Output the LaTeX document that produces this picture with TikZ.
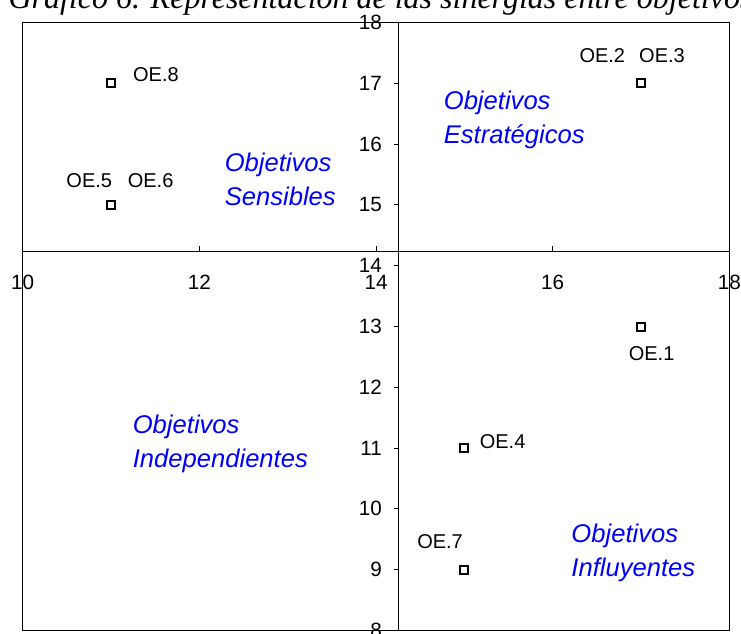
\documentclass[tikz,border=0pt]{standalone}
\usepackage{fontspec}
\setmainfont{Liberation Sans}
\newfontfamily\serifit{Liberation Serif}
\usepackage{tikz}
\usetikzlibrary{calc}

\tikzset{
  pto/.style={draw,rectangle,minimum size=6pt,inner sep=0pt,line width=1.5pt},
  etq/.style={anchor=base west,inner sep=0pt,font=\fontsize{15}{18}\selectfont},
  num/.style={inner sep=0pt,font=\fontsize{15.5}{18}\selectfont},
  zona/.style={anchor=base west,inner sep=0pt,align=left,text=blue,font=\fontsize{19.2}{25.3}\selectfont\itshape}
}

\begin{document}
                                 \begin{tikzpicture}[x=66.25pt,y=45.585pt,line width=0.75pt]
                                     \useasboundingbox (9.743,7.942) rectangle (18.132,18.373);
                                     \node[anchor=base west,inner sep=0pt,font=\fontsize{24}{28}\serifit\itshape] (titulo) at (9.834,18.225) {Gráfico 6. Representación de las sinergias entre objetivos};
                                     \draw (10,8) rectangle (18,18);
                                     \draw (10,14.227) -- (18,14.227);
                                     \draw (14.26,8) -- (14.26,18);
                                     \draw[shift={(10,14.227)},color=black] (0pt,4.5pt) -- (0pt,0pt) node[num,anchor=base,yshift=-28.5pt] (x10) {10};
                                     \draw[shift={(12,14.227)},color=black] (0pt,4.5pt) -- (0pt,0pt) node[num,anchor=base,yshift=-28.5pt] (x12) {12};
                                     \draw[shift={(14,14.227)},color=black] (0pt,4.5pt) -- (0pt,0pt) node[num,anchor=base,yshift=-28.5pt] (x14) {14};
                                     \draw[shift={(16,14.227)},color=black] (0pt,4.5pt) -- (0pt,0pt) node[num,anchor=base,yshift=-28.5pt] (x16) {16};
                                     \draw[shift={(18,14.227)},color=black] (0pt,4.5pt) -- (0pt,0pt) node[num,anchor=base,yshift=-28.5pt] (x18) {18};
                                     \draw[shift={(14.26,18)},color=black] (0pt,0pt) -- (-3.75pt,0pt) node[num,anchor=east,xshift=-8.75pt] (y18) {18};
                                     \draw[shift={(14.26,17)},color=black] (0pt,0pt) -- (-3.75pt,0pt) node[num,anchor=east,xshift=-8.75pt] (y17) {17};
                                     \draw[shift={(14.26,16)},color=black] (0pt,0pt) -- (-3.75pt,0pt) node[num,anchor=east,xshift=-8.75pt] (y16) {16};
                                     \draw[shift={(14.26,15)},color=black] (0pt,0pt) -- (-3.75pt,0pt) node[num,anchor=east,xshift=-8.75pt] (y15) {15};
                                     \draw[shift={(14.26,14)},color=black] (0pt,0pt) -- (-3.75pt,0pt) node[num,anchor=east,xshift=-8.75pt] (y14) {14};
                                     \draw[shift={(14.26,13)},color=black] (0pt,0pt) -- (-3.75pt,0pt) node[num,anchor=east,xshift=-8.75pt] (y13) {13};
                                     \draw[shift={(14.26,12)},color=black] (0pt,0pt) -- (-3.75pt,0pt) node[num,anchor=east,xshift=-8.75pt] (y12) {12};
                                     \draw[shift={(14.26,11)},color=black] (0pt,0pt) -- (-3.75pt,0pt) node[num,anchor=east,xshift=-8.75pt] (y11) {11};
                                     \draw[shift={(14.26,10)},color=black] (0pt,0pt) -- (-3.75pt,0pt) node[num,anchor=east,xshift=-8.75pt] (y10) {10};
                                     \draw[shift={(14.26,9)},color=black] (0pt,0pt) -- (-3.75pt,0pt) node[num,anchor=east,xshift=-8.75pt] (y9) {9};
                                     \draw[shift={(14.26,8)},color=black] (0pt,0pt) -- (-3.75pt,0pt) node[num,anchor=east,xshift=-8.75pt] (y8) {8};
                                     \node[pto](p1)at(17,13){};
                                     \node[pto](p23)at(17,17){};
                                     \node[pto](p4)at(15,11){};
                                     \node[pto](p56)at(11,15){};
                                     \node[pto](p7)at(15,9){};
                                     \node[pto](p8)at(11,17){};
                                     \node[etq](oe1)at(16.856,12.439){OE.1};
                                     \node[etq](oe2)at(16.298,17.349){OE.2};
                                     \node[etq](oe3)at(16.974,17.349){OE.3};
                                     \node[etq](oe4)at(15.169,10.986){OE.4};
                                     \node[etq](oe5)at(10.490,15.292){OE.5};
                                     \node[etq](oe6)at(11.184,15.292){OE.6};
                                     \node[etq](oe7)at(14.461,9.352){OE.7};
                                     \node[etq](oe8)at(11.245,17.029){OE.8};
                                     \node[zona](sens)at(12.282,14.989){Objetivos\\Sensibles};
                                     \node[zona](estr)at(14.762,16.016){Objetivos\\Estratégicos};
                                     \node[zona](indep)at(11.241,10.679){Objetivos\\Independientes};
                                     \node[zona](infl)at(16.207,8.885){Objetivos\\Influyentes};
                                 \end{tikzpicture}
\end{document}
